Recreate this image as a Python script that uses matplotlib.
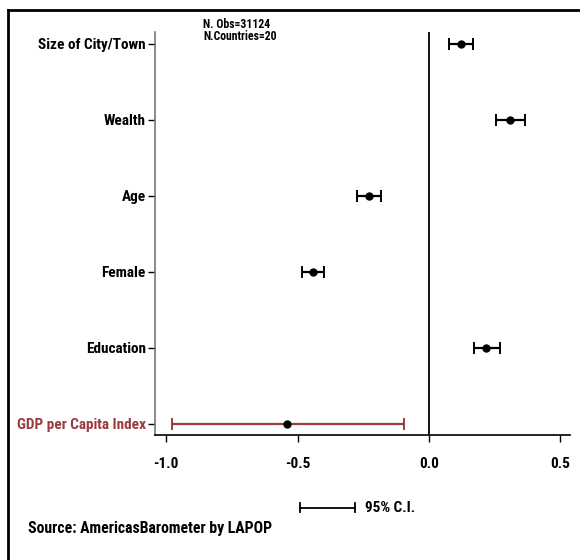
import matplotlib
matplotlib.use("Agg")
import matplotlib.pyplot as plt
from matplotlib.lines import Line2D

# Data
labels = ["Size of City/Town", "Wealth", "Age", "Female", "Education",
          "GDP per Capita Index"]
coefs = [0.122, 0.308, -0.228, -0.440, 0.218, -0.539]
ci_low = [0.077, 0.254, -0.274, -0.482, 0.170, -0.979]
ci_high = [0.169, 0.365, -0.182, -0.399, 0.270, -0.095]
xticks = [-1.0, -0.5, 0.0, 0.5]

RED = "#9b3b40"
FONT = ["Roboto Condensed", "PT Sans Narrow", "Liberation Sans", "DejaVu Sans"]
plt.rcParams["font.family"] = FONT
plt.rcParams["font.weight"] = "bold"

fig = plt.figure(figsize=(5.8, 5.6), dpi=100)
ax = fig.add_axes([0.2672, 0.2232, 0.7156, 0.7197])

for i in range(len(labels)):
    col = RED if i == len(labels) - 1 else "black"
    ax.errorbar(coefs[i], i,
                xerr=[[coefs[i] - ci_low[i]], [ci_high[i] - coefs[i]]],
                fmt="o", color=col, ecolor=col, ms=5, mfc="black", mec="black",
                elinewidth=1.6, capsize=4, capthick=1.4)

ax.axvline(0, color="black", lw=1.3)

ax.set_xlim(-1.043, 0.537)
ax.set_ylim(5.145, -0.158)
ax.set_xticks(xticks)
ax.set_xticklabels(["%.1f" % t for t in xticks], fontsize=11, fontweight="bold")
ax.set_yticks(range(len(labels)))
ax.set_yticklabels(labels, fontsize=11, fontweight="bold")
ax.get_yticklabels()[-1].set_color(RED)
ax.tick_params(axis="y", length=5, width=1, pad=1.5)
ax.tick_params(axis="x", length=5, width=1, pad=11)
ax.spines["top"].set_visible(False)
ax.spines["right"].set_visible(False)
ax.spines["left"].set_color("#777777")
ax.spines["left"].set_linewidth(1.2)
ax.spines["bottom"].set_linewidth(1.2)

# sample size note
fig.text(203 / 580, 1 - 30 / 560, "N. Obs=31124\nN.Countries=20", fontsize=8.5,
         fontweight="bold", va="center", ha="left", linespacing=0.9)

# CI legend
fig.add_artist(Line2D([300 / 580, 355 / 580], [1 - 507.5 / 560] * 2,
                      color="black", lw=1.3))
for xx in (300, 355):
    fig.add_artist(Line2D([xx / 580] * 2,
                          [1 - 503 / 560, 1 - 512 / 560], color="black", lw=1.3))
fig.text(365 / 580, 1 - 507.5 / 560, "95% C.I.", fontsize=11,
         fontweight="bold", va="center", ha="left")

fig.text(28 / 580, 1 - 528 / 560, "Source: AmericasBarometer by LAPOP",
         fontsize=11.3, fontweight="bold", va="center", ha="left")

# outer frame (left and top only)
fig.add_artist(Line2D([7.5 / 580] * 2, [0, 1 - 9.5 / 560], color="black", lw=2))
fig.add_artist(Line2D([7.5 / 580, 1], [1 - 9.5 / 560] * 2, color="black", lw=2))

fig.savefig("out.png", dpi=100)
